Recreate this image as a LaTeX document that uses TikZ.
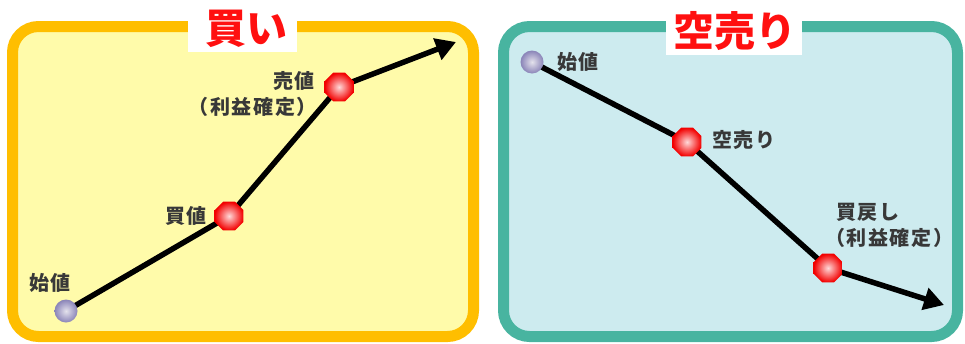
\documentclass[tikz,border=0pt]{standalone}
\usepackage{fontspec}
\newfontfamily\jp{Noto Sans CJK JP}
\newfontfamily\jpl[LetterSpace=8]{Noto Sans CJK JP}
\usetikzlibrary{shapes.geometric,arrows.meta}
\pgfdeclarelayer{bg}
\pgfdeclarelayer{lines}
\pgfsetlayers{bg,lines,main}
\definecolor{yborder}{HTML}{FFBE00}
\definecolor{yfill}{HTML}{FFFBAA}
\definecolor{tborder}{HTML}{48B4A0}
\definecolor{tfill}{HTML}{CDEBEF}
\definecolor{titlered}{HTML}{FF1010}
\definecolor{labelgray}{HTML}{383838}
\definecolor{ballout}{HTML}{8A84B8}
\definecolor{ballin}{HTML}{E4E2EC}
\tikzset{
  panel/.style={line width=11pt, rounded corners=26pt},
  titlebox/.style={fill=white, draw=none},
  titletext/.style={font=\jp\bfseries\fontsize{41}{41}\selectfont, text=titlered, inner sep=0pt},
  lbl/.style={font=\jpl\bfseries\fontsize{20}{23}\selectfont, text=labelgray, inner sep=0pt, align=right},
  oct/.style={regular polygon, regular polygon sides=8, minimum size=31pt, inner sep=0pt,
     inner color=white!85!red, outer color=red!95!black},
  ballnode/.style={circle, minimum size=23pt, inner sep=0pt, inner color=ballin, outer color=ballout},
  trend/.style={line width=5.5pt, black, -{Triangle[length=20pt,width=22pt]}},
}
\begin{document}
\begin{tikzpicture}[x=1pt,y=-1pt]
\useasboundingbox (0,0) rectangle (965,343);
% panels
\begin{pgfonlayer}{bg}
\draw[panel, draw=yborder, fill=yfill] (12.5,26.5) rectangle (473.5,336.5);
\draw[panel, draw=tborder, fill=tfill] (503.5,26.5) rectangle (957.5,336.5);
\fill[titlebox] (188,0) rectangle (297,52);
\fill[titlebox] (666,0) rectangle (802,55);
\end{pgfonlayer}
\node[titletext] (t1) at (246,29) {買い};
\node[titletext] (t2) at (735,31) {空売り};
% left chart
\node[ballnode] (l0) at (66,311) {};
\node[oct] (l1) at (229,216) {};
\node[oct] (l2) at (339,87) {};
\coordinate (l3) at (456,42);
\node[lbl, anchor=center] (l0t) at (50,283) {始値};
\node[lbl, anchor=east] (l1t) at (207,216) {買値};
\node[lbl, anchor=east] (l2t) at (315,81) {売値};
\node[lbl, anchor=east] (l2u) at (317,107) {（利益確定）};
% right chart
\node[ballnode] (r0) at (532,62) {};
\node[oct] (r1) at (687,142) {};
\node[oct] (r2) at (828,268) {};
\coordinate (r3) at (944,305);
\node[lbl, anchor=west] (r0t) at (557,62) {始値};
\node[lbl, anchor=west] (r1t) at (712,140) {空売り};
\node[lbl, anchor=west] (r2t) at (836,212) {買戻し};
\node[lbl, anchor=west] (r2u) at (825,238) {（利益確定）};
\begin{pgfonlayer}{lines}
\draw[trend] (l0.center) -- (l1.center) -- (l2.center) -- (l3);
\draw[trend] (r0.center) -- (r1.center) -- (r2.center) -- (r3);
\end{pgfonlayer}
\end{tikzpicture}
\end{document}
